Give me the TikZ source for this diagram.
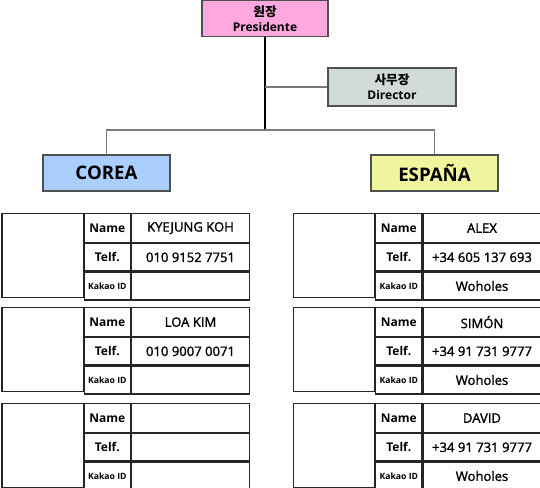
\documentclass[tikz,border=0pt]{standalone}
\usepackage{fontspec}
\setmainfont{Open Sans}
\newfontfamily\kr{Noto Sans CJK KR}
\newfontfamily\semi{Open Sans}[FakeBold=1.5]
\usetikzlibrary{positioning}

\definecolor{presfill}{HTML}{FFA8E0}
\definecolor{dirfill}{HTML}{D3DBDA}
\definecolor{coreafill}{HTML}{AACFFF}
\definecolor{espanafill}{HTML}{F0F59E}
\definecolor{boxline}{HTML}{505050}
\definecolor{linkline}{HTML}{7A7A7A}

\tikzset{
  box/.style={draw=boxline,line width=1pt,inner sep=0pt,align=center,
    font=\fontsize{9}{11}\selectfont\bfseries},
  country/.style={box,minimum width=95.25pt,minimum height=27pt,
    font=\fontsize{14}{16}\selectfont\bfseries},
  cell/.style={draw=black!85,line width=0.9pt,inner sep=0pt,anchor=north west,
    font=\semi\fontsize{9.8}{11}\selectfont},
  keycell/.style={cell,minimum width=34.5pt,font=\fontsize{9}{11}\selectfont\bfseries},
  valcell/.style={cell,minimum width=88.5pt},
  link/.style={draw=linkline,line width=1.1pt}
}

\begin{document}
\begin{tikzpicture}[x=0.75pt,y=-0.75pt]
\useasboundingbox (0,0) rectangle (540,488);

% top of the chart
\node (pres) at (265,18.5) [box,fill=presfill,minimum width=94.5pt,minimum height=27pt] {{\kr\bfseries\fontsize{9.5}{11}\selectfont 원장}\\Presidente};
\node (dir) at (392,87) [box,fill=dirfill,minimum width=96pt,minimum height=28.5pt] {{\kr\bfseries\fontsize{9.5}{11}\selectfont 사무장}\\Director};
\node (corea) at (106.5,173) [country,fill=coreafill] {COREA};
\node (espana) at (434.5,173) [country,fill=espanafill] {ESPAÑA};

\coordinate (tap) at (265,87);
\coordinate (hub) at (265,130);

\draw[line width=0.9pt] (pres.south) to (hub);
\draw[link] (tap) to (dir.west);
\draw[link] (corea.north) |- (hub) -| (espana.north);

% contact cards
\foreach \tx/\ty/\nm/\tel/\kid [count=\i] in {
    1.5/213/KYEJUNG KOH/010 9152 7751/{},
    1.5/307/LOA KIM/010 9007 0071/{},
    1.5/403/{}/{}/{},
    293/213/ALEX/+34 605 137 693/Woholes,
    293/307/SIMÓN/+34 91 731 9777/Woholes,
    293/403/DAVID/+34 91 731 9777/Woholes} {
  \node (photo\i) at (\tx,\ty) [cell,minimum width=60.75pt,minimum height=63pt] {};
  \node (namekey\i) at (photo\i.north east) [keycell,minimum height=21.75pt] {Name};
  \node (nameval\i) at (namekey\i.north east) [valcell,minimum height=21.75pt] {\nm};
  \node (telkey\i) at (namekey\i.south west) [keycell,minimum height=20.25pt] {Telf.};
  \node (telval\i) at (telkey\i.north east) [valcell,minimum height=20.25pt] {\tel};
  \node (kakaokey\i) at (telkey\i.south west) [keycell,minimum height=21pt,font=\fontsize{6.5}{7}\selectfont\bfseries] {Kakao ID};
  \node (kakaoval\i) at (kakaokey\i.north east) [valcell,minimum height=21pt] {\kid};
}
\end{tikzpicture}
\end{document}
